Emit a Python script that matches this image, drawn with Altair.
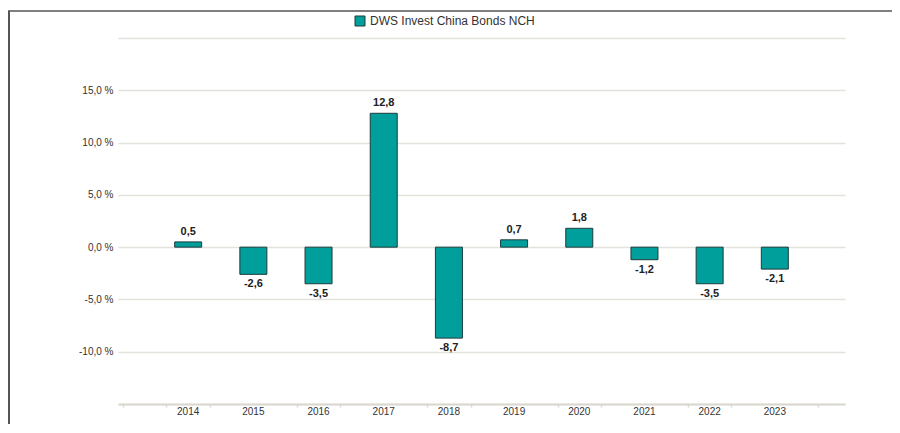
import altair as alt
import pandas as pd

years = [2014, 2015, 2016, 2017, 2018, 2019, 2020, 2021, 2022, 2023]
values = [0.5, -2.6, -3.5, 12.8, -8.7, 0.7, 1.8, -1.2, -3.5, -2.1]
series_name = "DWS Invest China Bonds NCH"
y_ticks = [-15, -10, -5, 0, 5, 10, 15, 20]
x_ticks = [2013 + i / 3 for i in range(34)]

df = pd.DataFrame({"year": years, "value": values, "series": series_name})
df["label"] = [f"{v:.1f}".replace(".", ",") for v in values]
df["year_label"] = [str(y) for y in years]

TEAL = "#009f9c"
OUT = "#1d3b3b"
FONT = "Liberation Sans"

x_enc = alt.X(
    "year:Q",
    scale=alt.Scale(domain=[2013, 2024], nice=False, zero=False),
    axis=alt.Axis(
        values=x_ticks,
        title=None,
        grid=False,
        domainColor="#d9d7cf",
        domainWidth=2,
        tickColor="#d9d7cf",
        tickWidth=1.5,
        tickSize=3,
        tickOpacity={"condition": {"test": "abs(datum.value - round(datum.value)) < 0.01 && datum.value > 2013.5 && datum.value < 2023.5", "value": 0}, "value": 1},
        labels=False,
    ),
)

y_enc = alt.Y(
    "value:Q",
    scale=alt.Scale(domain=[-15, 20], nice=False),
    axis=alt.Axis(
        values=y_ticks,
        title=None,
        domain=False,
        ticks=False,
        grid=True,
        gridColor="#e3e2dc",
        gridWidth=1.5,
        labelExpr="datum.value > 16 || datum.value < -12 ? '' : replace(replace(format(datum.value, '.1f'), '.', ','), '\u2212', '-') + ' %'",
        labelFontSize=10,
        labelColor="#333333",
        labelFont=FONT,
        labelPadding=5,
    ),
)

base = alt.Chart(df)

bars = base.mark_bar(size=27, stroke=OUT, strokeWidth=1).encode(
    x=x_enc,
    y=y_enc,
    y2=alt.datum(0),
    color=alt.Color(
        "series:N",
        scale=alt.Scale(domain=[series_name], range=[TEAL]),
        legend=alt.Legend(
            title=None,
            orient="none",
            legendX=236,
            legendY=-23,
            symbolType="square",
            symbolSize=100,
            symbolStrokeColor=OUT,
            symbolStrokeWidth=1,
            labelFontSize=12,
            labelColor="#333333",
            labelFont=FONT,
            labelOffset=4,
            labelLimit=400,
        ),
    ),
)

pos_text = base.transform_filter("datum.value >= 0").mark_text(
    baseline="bottom", dy=-5, fontWeight="bold", fontSize=11, font=FONT, color="#222222"
).encode(x="year:Q", y="value:Q", text="label:N")

neg_text = base.transform_filter("datum.value < 0").mark_text(
    baseline="top", dy=4, fontWeight="bold", fontSize=11, font=FONT, color="#222222"
).encode(x="year:Q", y="value:Q", text="label:N")

year_text = base.mark_text(
    baseline="top", fontSize=10, font=FONT, color="#333333"
).encode(x="year:Q", y=alt.value(369), text="year_label:N")

frame_data = alt.Data(values=[{"k": 1}])
left_border = alt.Chart(frame_data).mark_rule(color="#555555", strokeWidth=2).encode(
    x=alt.value(-109), y=alt.value(-27), y2=alt.value(400)
)
top_border = alt.Chart(frame_data).mark_rule(color="#555555", strokeWidth=1.5).encode(
    x=alt.value(-110), x2=alt.value(790), y=alt.value(-27)
)

chart = (
    alt.layer(bars, pos_text, neg_text, year_text, left_border, top_border)
    .properties(
        width=727,
        height=366,
        padding={"left": 110, "top": 30, "right": 47, "bottom": 20},
        autosize=alt.AutoSizeParams(type="none"),
        background="white",
    )
    .configure_view(strokeWidth=0)
)

chart.save("out.html", embed_options={"renderer": "svg", "actions": False})
